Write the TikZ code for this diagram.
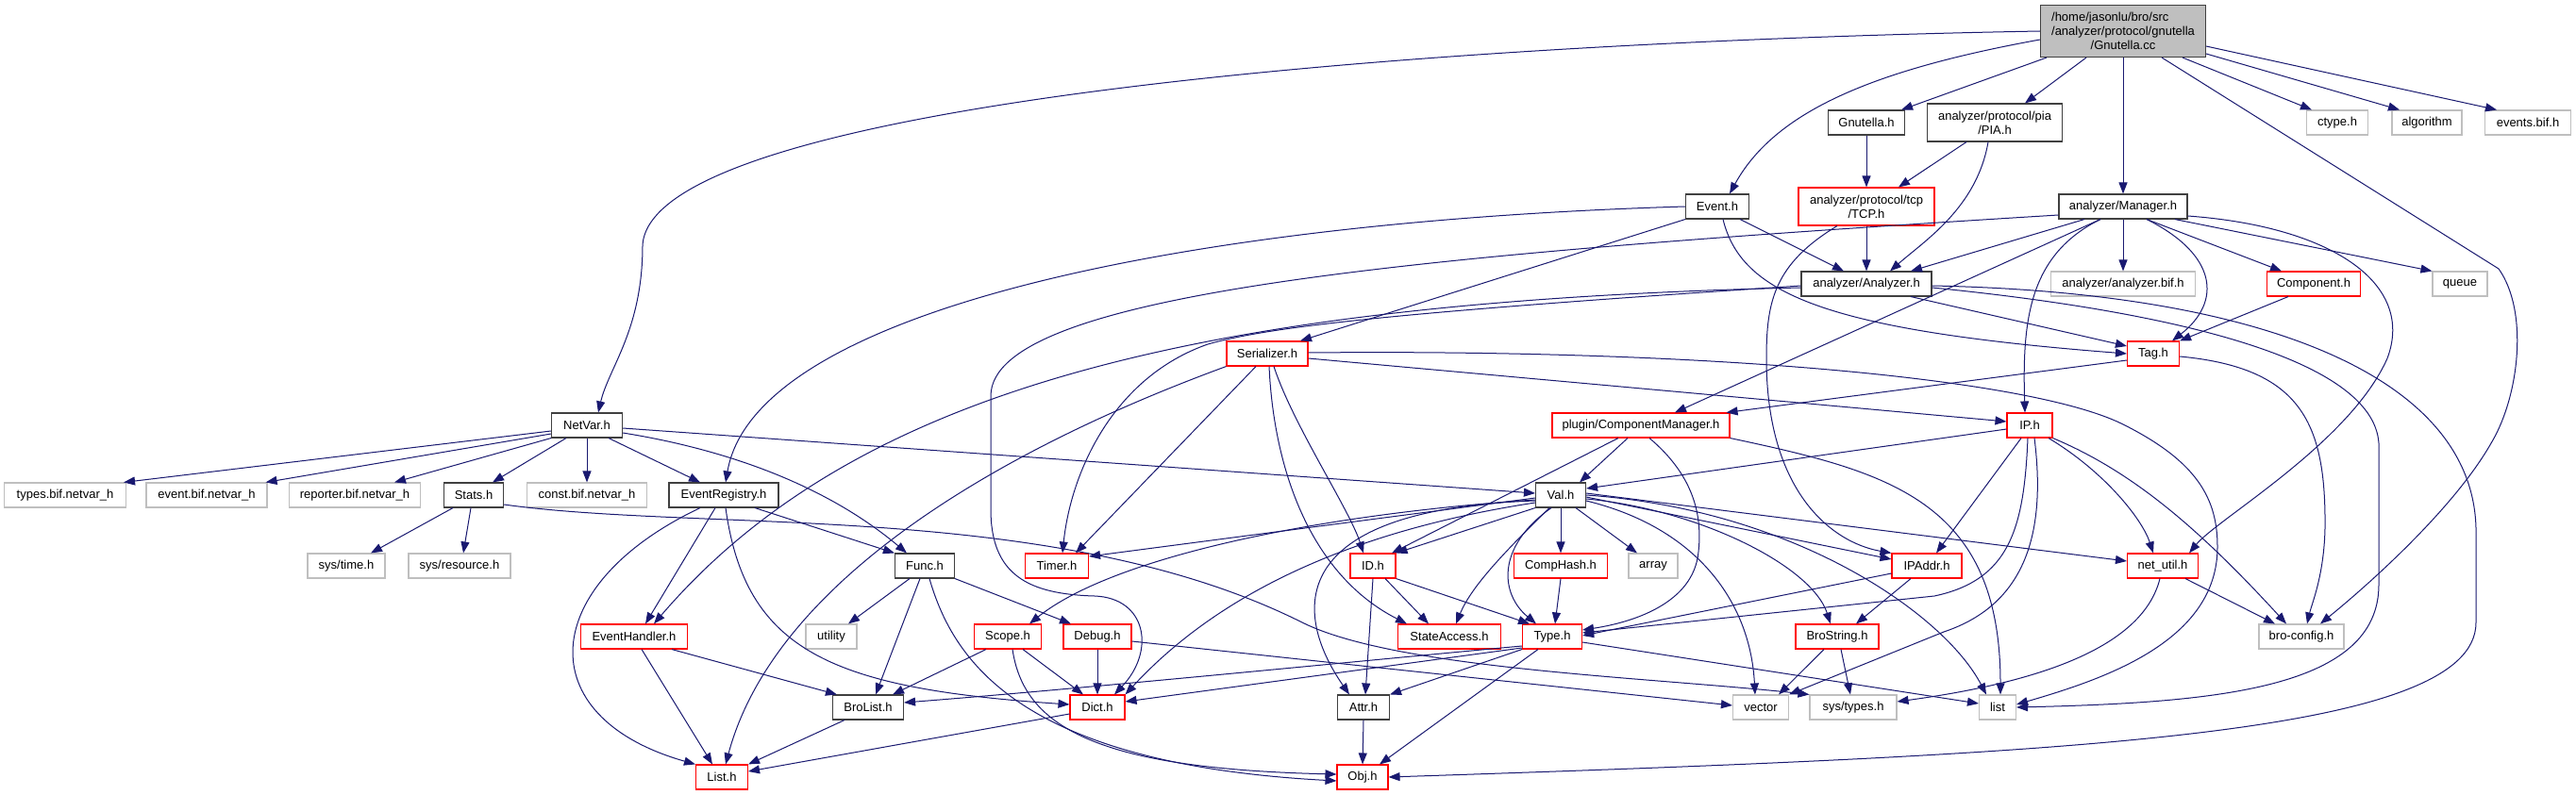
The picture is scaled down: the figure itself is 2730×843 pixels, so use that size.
\documentclass[tikz,border=0pt]{standalone}
\usepackage{fontspec}
\setmainfont{Liberation Sans}
\usetikzlibrary{arrows.meta}
\definecolor{dxedge}{HTML}{191970}
\definecolor{dxgrey}{HTML}{BFBFBF}
\definecolor{dxdark}{HTML}{404040}

\begin{document}
\begin{tikzpicture}[
    x=1pt,
    y=-1pt,
    font=\fontsize{13}{15}\selectfont,
    file/.style={rectangle, draw=dxdark, line width=1.1pt, fill=white, minimum height=26pt, inner sep=0pt, align=center},
    trunc/.style={file, draw=red},
    ext/.style={file, draw=dxgrey},
    link/.style={-{Triangle[length=12pt,width=9pt]}, line width=1pt, draw=dxedge}
  ]
    \fill[white] (0,0) rectangle (2730,843);
    \useasboundingbox (0,0) rectangle (2730,843);

    % source file and first level
    \node[file, fill=dxgrey, minimum width=175pt, minimum height=55pt] (root) at (2250,33) {\rlap{/home/jasonlu/bro/src}\phantom{/analyzer/protocol/gnutella}\\/analyzer/protocol/gnutella\\/Gnutella.cc};
    \node[file, minimum width=81pt] (gnutellah) at (1978,130) {Gnutella.h};
    \node[file, minimum width=143pt, minimum height=40pt] (pia) at (2114,130) {analyzer/protocol/pia\\/PIA.h};
    \node[ext, minimum width=65pt] (ctype) at (2477,130) {ctype.h};
    \node[ext, minimum width=74pt] (algorithm) at (2572,130) {algorithm};
    \node[ext, minimum width=91pt] (eventsbif) at (2679,130) {events.bif.h};
    \node[file, minimum width=67pt] (eventh) at (1820,219) {Event.h};
    \node[trunc, minimum width=144pt, minimum height=40pt] (tcp) at (1978,219) {analyzer/protocol/tcp\\/TCP.h};
    \node[file, minimum width=136pt] (manager) at (2250,219) {analyzer/Manager.h};
    \node[file, minimum width=138pt] (analyzer) at (1978,301) {analyzer/Analyzer.h};
    \node[ext, minimum width=153pt] (anbif) at (2250,301) {analyzer/analyzer.bif.h};
    \node[trunc, minimum width=99pt] (component) at (2452,301) {Component.h};
    \node[ext, minimum width=58pt] (queue) at (2607,301) {queue};
    \node[trunc, minimum width=86pt] (serializer) at (1343,375) {Serializer.h};
    \node[trunc, minimum width=55pt] (tag) at (2282,375) {Tag.h};
    \node[file, minimum width=75pt] (netvar) at (622,451) {NetVar.h};
    \node[trunc, minimum width=188pt] (compmgr) at (1739,451) {plugin/ComponentManager.h};
    \node[trunc, minimum width=48pt] (ip) at (2151,451) {IP.h};

    \node[ext, minimum width=129pt] (typesbif) at (69,525) {types.bif.netvar\_h};
    \node[ext, minimum width=128pt] (eventbif) at (219,525) {event.bif.netvar\_h};
    \node[ext, minimum width=139pt] (reporterbif) at (376,525) {reporter.bif.netvar\_h};
    \node[file, minimum width=63pt] (stats) at (502,525) {Stats.h};
    \node[ext, minimum width=127pt] (constbif) at (622,525) {const.bif.netvar\_h};
    \node[file, minimum width=116pt] (evreg) at (767,525) {EventRegistry.h};
    \node[file, minimum width=53pt] (val) at (1654,525) {Val.h};

    \node[ext, minimum width=82pt] (systime) at (367,600) {sys/time.h};
    \node[ext, minimum width=108pt] (sysres) at (487,600) {sys/resource.h};
    \node[file, minimum width=63pt] (func) at (980,600) {Func.h};
    \node[trunc, minimum width=67pt] (timer) at (1120,600) {Timer.h};
    \node[trunc, minimum width=48pt] (id) at (1455,600) {ID.h};
    \node[trunc, minimum width=99pt] (comphash) at (1654,600) {CompHash.h};
    \node[ext, minimum width=52pt] (array) at (1752,600) {array};
    \node[trunc, minimum width=74pt] (ipaddr) at (2042,600) {IPAddr.h};
    \node[trunc, minimum width=75pt] (netutil) at (2292,600) {net\_util.h};

    \node[trunc, minimum width=113pt] (evhandler) at (672,675) {EventHandler.h};
    \node[ext, minimum width=54pt] (utility) at (881,675) {utility};
    \node[trunc, minimum width=71pt] (scope) at (1068,675) {Scope.h};
    \node[trunc, minimum width=72pt] (debug) at (1163,675) {Debug.h};
    \node[trunc, minimum width=109pt] (stateacc) at (1536,675) {StateAccess.h};
    \node[trunc, minimum width=63pt] (type) at (1645,675) {Type.h};
    \node[trunc, minimum width=88pt] (brostring) at (1947,675) {BroString.h};
    \node[ext, minimum width=90pt] (broconfig) at (2439,675) {bro-config.h};

    \node[file, minimum width=75pt] (brolist) at (920,750) {BroList.h};
    \node[trunc, minimum width=58pt] (dict) at (1163,750) {Dict.h};
    \node[file, minimum width=55pt] (attr) at (1445,750) {Attr.h};
    \node[ext, minimum width=59pt] (vector) at (1866,750) {vector};
    \node[ext, minimum width=92pt] (systypes) at (1964,750) {sys/types.h};
    \node[ext, minimum width=39pt] (list) at (2117,750) {list};
    \node[trunc, minimum width=55pt] (listh) at (765,824) {List.h};
    \node[trunc, minimum width=54pt] (obj) at (1444,824) {Obj.h};

    % includes of the source file
    \draw[link] (root.west) .. controls (1500,45) and (690,110) .. (681,260) .. controls (681,350) and (645,390) .. ([xshift=12pt]netvar.north);
    \draw[link] ([yshift=-9pt]root.west) .. controls (1980,75) and (1880,120) .. ([xshift=13pt]eventh.north);
    \draw[link] ([xshift=7pt]root.south west) -- ([xshift=-4pt]gnutellah.north east);
    \draw[link] ([xshift=-39pt]root.south) -- ([xshift=32pt]pia.north);
    \draw[link] (root.south) -- (manager.north);
    \draw[link] ([xshift=63pt]root.south) -- ([xshift=-27pt]ctype.north);
    \draw[link] ([yshift=-24pt]root.east) -- ([xshift=-29pt]algorithm.north);
    \draw[link] ([yshift=-16pt]root.east) -- ([xshift=-33pt]eventsbif.north);
    \draw[link] ([xshift=41pt]root.south) -- (2648,285) .. controls (2680,330) and (2670,420) .. (2640,470) .. controls (2600,540) and (2510,620) .. ([xshift=20pt]broconfig.north);

    \draw[link] (gnutellah.south) -- (tcp.north);
    \draw[link] ([xshift=-30pt]pia.south) -- ([xshift=34pt]tcp.north);
    \draw[link] ([xshift=-7pt]pia.south) .. controls (2095,220) and (2040,255) .. ([xshift=25pt]analyzer.north);
    \draw[link] (tcp.south) -- (analyzer.north);
    \draw[link] ([xshift=-31pt]tcp.south) .. controls (1880,280) and (1872,320) .. (1872,380) .. controls (1872,520) and (1940,575) .. (ipaddr.north west);

    \draw[link] (eventh.west) .. controls (1250,235) and (800,330) .. ([xshift=2pt]evreg.north);
    \draw[link] (eventh.south west) -- ([xshift=35pt]serializer.north);
    \draw[link] ([xshift=24pt]eventh.south) -- ([xshift=-24pt]analyzer.north);
    \draw[link] ([xshift=6pt]eventh.south) .. controls (1845,310) and (1930,350) .. (tag.west);

    \draw[link] ([xshift=-41pt]manager.south) -- ([xshift=47pt]analyzer.north);
    \draw[link] ([xshift=-24pt]manager.south) -- ([xshift=36pt]compmgr.north);
    \draw[link] ([xshift=-24pt]manager.south) .. controls (2150,270) and (2143,340) .. ([xshift=-5pt]ip.north);
    \draw[link] (manager.south) -- (anbif.north);
    \draw[link] ([xshift=25pt]manager.south) .. controls (2350,270) and (2355,320) .. ([xshift=20pt]tag.north);
    \draw[link] ([xshift=25pt]manager.south) -- ([xshift=-34pt]component.north);
    \draw[link] ([xshift=55pt]manager.south) -- (queue.north west);
    \draw[link] ([yshift=-10pt]manager.east) .. controls (2470,240) and (2560,300) .. (2530,380) .. controls (2490,470) and (2350,550) .. ([xshift=28pt]netutil.north);
    \draw[link] ([yshift=-9pt]manager.west) .. controls (1500,270) and (1050,310) .. (1050,420) -- (1050,540) .. controls (1050,610) and (1090,630) .. (1160,632) .. controls (1215,634) and (1225,690) .. ([xshift=18pt]dict.north);

    \draw[link] ([xshift=47pt]analyzer.south) -- ([yshift=8pt]tag.west);
    \draw[link] ([yshift=-4pt]analyzer.west) .. controls (1250,320) and (900,420) .. ([xshift=21pt]evhandler.north);
    \draw[link] ([yshift=-2pt]analyzer.west) .. controls (1500,330) and (1350,345) .. (1280,365) .. controls (1180,400) and (1135,500) .. ([xshift=6pt]timer.north);
    \draw[link] ([yshift=-4pt]analyzer.east) .. controls (2300,330) and (2515,380) .. (2521,470) -- (2521,620) .. controls (2521,730) and (2350,745) .. (list.east);
    \draw[link] ([yshift=-2pt]analyzer.east) .. controls (2400,310) and (2620,400) .. (2624,560) -- (2624,660) .. controls (2624,780) and (2200,800) .. (obj.east);

    \draw[link] ([xshift=-27pt]component.south) -- (tag.north east);
    \draw[link] ([yshift=-3pt]tag.east) .. controls (2440,390) and (2465,450) .. (2464,560) .. controls (2463,610) and (2450,640) .. ([xshift=6pt]broconfig.north);
    \draw[link] ([yshift=-7pt]tag.west) -- ([xshift=-4pt]compmgr.north east);

    % NetVar.h and what hangs below it
    \draw[link] ([yshift=-6pt]netvar.west) -- ([xshift=-3pt]typesbif.north east);
    \draw[link] ([yshift=-9pt]netvar.west) -- ([xshift=-2pt]eventbif.north east);
    \draw[link] (netvar.south west) -- ([xshift=42pt]reporterbif.north);
    \draw[link] ([xshift=-22pt]netvar.south) -- ([xshift=20pt]stats.north);
    \draw[link] (netvar.south) -- (constbif.north);
    \draw[link] ([xshift=23pt]netvar.south) -- ([xshift=-25pt]evreg.north);
    \draw[link] ([yshift=-8pt]netvar.east) .. controls (760,475) and (870,510) .. ([xshift=-19pt]func.north);
    \draw[link] ([yshift=-3pt]netvar.east) -- ([yshift=2pt]val.west);

    \draw[link] ([xshift=-22pt]stats.south) -- ([xshift=26pt]systime.north);
    \draw[link] ([xshift=-3pt]stats.south) -- ([xshift=4pt]sysres.north);
    \draw[link] ([yshift=-10pt]stats.east) .. controls (750,565) and (1120,530) .. (1380,660) .. controls (1480,710) and (1750,718) .. (systypes.north west);

    \draw[link] ([xshift=-9pt]evreg.south) -- ([xshift=12pt]evhandler.north);
    \draw[link] ([xshift=-25pt]evreg.south) .. controls (570,620) and (560,760) .. (listh.north west);
    \draw[link] ([xshift=33pt]evreg.south) -- (func.north west);
    \draw[link] ([xshift=2pt]evreg.south) .. controls (790,690) and (880,730) .. ([yshift=3pt]dict.west);

    \draw[link] ([xshift=-16pt]func.south) -- ([xshift=18pt]utility.north);
    \draw[link] ([xshift=-5pt]func.south) -- ([xshift=8pt]brolist.north);
    \draw[link] ([xshift=5pt]func.south) .. controls (1010,700) and (1080,810) .. ([yshift=-4pt]obj.west);
    \draw[link] (func.south east) -- ([xshift=-28pt]debug.north);

    \draw[link] ([xshift=40pt]evhandler.south) -- ([xshift=5pt]brolist.north west);
    \draw[link] ([xshift=8pt]evhandler.south) -- ([xshift=-10pt]listh.north);
    \draw[link] ([xshift=-23pt]scope.south) -- ([xshift=26pt]brolist.north);
    \draw[link] ([xshift=16pt]scope.south) -- ([xshift=-15pt]dict.north);
    \draw[link] ([xshift=5pt]scope.south) .. controls (1085,770) and (1160,815) .. ([yshift=3pt]obj.west);
    \draw[link] (debug.south) -- (dict.north);
    \draw[link] ([yshift=-5pt]debug.east) -- ([yshift=2pt]vector.west);
    \draw[link] ([xshift=-25pt]brolist.south) -- (listh.north east);
    \draw[link] ([yshift=-7pt]dict.west) -- ([yshift=6pt]listh.east);

    % Serializer.h
    \draw[link] (serializer.south west) .. controls (1050,480) and (820,620) .. ([xshift=4pt]listh.north);
    \draw[link] ([xshift=-12pt]serializer.south) -- ([xshift=20pt]timer.north);
    \draw[link] ([xshift=2pt]serializer.south) .. controls (1350,500) and (1390,610) .. ([xshift=-45pt]stateacc.north);
    \draw[link] ([xshift=7pt]serializer.south) .. controls (1370,450) and (1430,540) .. ([xshift=-10pt]id.north);
    \draw[link] ([yshift=-5pt]serializer.east) -- ([yshift=4pt]ip.west);
    \draw[link] ([yshift=1pt]serializer.east) .. controls (1800,370) and (2150,400) .. (2250,450) .. controls (2330,490) and (2350,530) .. (2350,580) .. controls (2350,680) and (2230,720) .. ([yshift=3pt]list.east);

    % plugin/ComponentManager.h
    \draw[link] ([xshift=-24pt]compmgr.south) -- ([xshift=20pt]id.north);
    \draw[link] ([xshift=-14pt]compmgr.south) -- ([xshift=20pt]val.north);
    \draw[link] ([xshift=9pt]compmgr.south) .. controls (1790,500) and (1805,540) .. (1800,585) .. controls (1795,640) and (1730,660) .. ([yshift=7pt]type.east);
    \draw[link] (compmgr.south east) .. controls (2000,500) and (2120,530) .. ([xshift=3pt]list.north);

    % Val.h
    \draw[link] ([yshift=-3pt]val.west) -- ([yshift=10pt]timer.east);
    \draw[link] (val.south west) -- (id.north east);
    \draw[link] ([yshift=-5pt]val.west) .. controls (1400,545) and (1180,590) .. ([xshift=23pt]scope.north);
    \draw[link] ([yshift=-8pt]val.west) .. controls (1450,560) and (1300,620) .. (dict.north east);
    \draw[link] ([yshift=-6pt]val.west) .. controls (1360,540) and (1370,650) .. ([xshift=-15pt]attr.north);
    \draw[link] ([xshift=-12pt]val.south) .. controls (1600,580) and (1560,620) .. ([xshift=7pt]stateacc.north);
    \draw[link] ([xshift=-10pt]val.south) .. controls (1585,580) and (1590,630) .. ([xshift=-17pt]type.north);
    \draw[link] (val.south) -- (comphash.north);
    \draw[link] ([xshift=16pt]val.south) -- ([xshift=-17pt]array.north);
    \draw[link] ([yshift=-6pt]val.east) .. controls (1800,560) and (1855,640) .. ([xshift=-6pt]vector.north);
    \draw[link] ([yshift=-4pt]val.east) .. controls (1800,540) and (1920,600) .. ([xshift=-7pt]brostring.north);
    \draw[link] ([yshift=-2pt]val.east) -- ([yshift=7pt]ipaddr.west);
    \draw[link] ([yshift=2pt]val.east) -- ([yshift=5pt]netutil.west);
    \draw[link] (val.east) .. controls (1900,540) and (2060,650) .. ([xshift=-12pt]list.north);

    % IP.h
    \draw[link] ([yshift=-4pt]ip.west) -- ([yshift=7pt]val.east);
    \draw[link] ([xshift=-9pt]ip.south) -- ([xshift=10pt]ipaddr.north);
    \draw[link] ([xshift=-2pt]ip.south) .. controls (2145,560) and (2130,615) .. (2050,632) -- ([yshift=4pt]type.east);
    \draw[link] ([xshift=5pt]ip.south) .. controls (2168,560) and (2150,640) .. (2060,670) -- (vector.north east);
    \draw[link] ([xshift=20pt]ip.south) .. controls (2230,500) and (2270,550) .. ([xshift=-10pt]netutil.north);
    \draw[link] (ip.south east) .. controls (2260,500) and (2330,560) .. ([xshift=-16pt]broconfig.north);

    % lower levels
    \draw[link] ([xshift=13pt]id.south) -- ([xshift=-22pt]stateacc.north);
    \draw[link] (id.south east) -- ([xshift=-24pt]type.north);
    \draw[link] (id.south) -- ([xshift=2pt]attr.north);
    \draw[link] (comphash.south) -- ([xshift=3pt]type.north);
    \draw[link] ([xshift=-17pt]ipaddr.south) -- ([xshift=20pt]brostring.north);
    \draw[link] ([yshift=-8pt]ipaddr.west) -- ([yshift=1pt]type.east);
    \draw[link] ([xshift=-14pt]brostring.south) -- ([xshift=19pt]vector.north);
    \draw[link] ([xshift=4pt]brostring.south) -- ([xshift=-3pt]systypes.north);
    \draw[link] ([xshift=24pt]netutil.south) -- ([xshift=-28pt]broconfig.north);
    \draw[link] ([xshift=-3pt]netutil.south) .. controls (2270,690) and (2150,725) .. ([yshift=6pt]systypes.east);
    \draw[link] (type.south west) -- (attr.north east);
    \draw[link] ([xshift=-15pt]type.south) -- ([xshift=18pt]obj.north);
    \draw[link] ([yshift=-10pt]type.west) .. controls (1450,700) and (1150,730) .. ([yshift=5pt]brolist.east);
    \draw[link] ([yshift=-12pt]type.west) -- ([yshift=6pt]dict.east);
    \draw[link] ([yshift=-6pt]type.east) -- ([yshift=4pt]list.west);
    \draw[link] (attr.south) -- (obj.north);
  \end{tikzpicture}
\end{document}
